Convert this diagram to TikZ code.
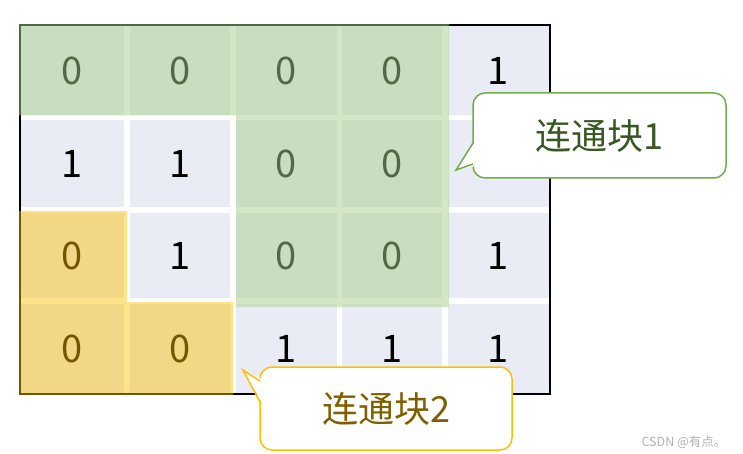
\documentclass[tikz,border=0pt]{standalone}
\usepackage{fontspec}
\setmainfont{Noto Sans CJK SC}
\definecolor{cellblue}{RGB}{233,236,245}
\definecolor{ovgreen}{RGB}{169,209,142}
\definecolor{ovyellow}{RGB}{255,192,0}
\definecolor{cgreen}{RGB}{112,173,71}
\definecolor{tgreen}{RGB}{56,87,35}
\definecolor{cyellow}{RGB}{255,192,0}
\definecolor{tyellow}{RGB}{127,96,0}
\begin{document}
\begin{tikzpicture}[x=1pt,y=-1pt,
  cellfill/.style={fill=cellblue},
  num/.style={inner sep=0pt,font=\fontsize{38}{38}\selectfont,text=black},
  callbox/.style={rectangle,rounded corners=12pt,line width=1.5pt,fill=white,
    inner sep=0pt,font=\fontsize{36}{36}\selectfont},
  gcall/.style={callbox,draw=cgreen,text=tgreen},
  ycall/.style={callbox,draw=cyellow,text=tyellow},
  tailg/.style={draw=cgreen,line width=1.5pt,line join=miter},
  taily/.style={draw=cyellow,line width=1.5pt,line join=miter}]
\useasboundingbox (0,0) rectangle (743,454);
\fill[white] (0,0) rectangle (743,454);
% cells
\foreach \xa/\xb in {21/124,130/230,236/337,342/442,448/549}{
  \foreach \ya/\yb in {26/115,120/207,213/298,304/393.5}{
    \fill[cellfill] (\xa,\ya) rectangle (\xb,\yb);
  }
}
% frame
\draw[line width=1.4pt] (20,25) rectangle (550,394);
% numbers
\node[num] (n00) at (72.5,70.5) {0};
\node[num] (n01) at (180,70.5) {0};
\node[num] (n02) at (286.5,70.5) {0};
\node[num] (n03) at (392,70.5) {0};
\node[num] (n04) at (498.5,70.5) {1};
\node[num] (n10) at (72.5,163.5) {1};
\node[num] (n11) at (180,163.5) {1};
\node[num] (n12) at (286.5,163.5) {0};
\node[num] (n13) at (392,163.5) {0};
\node[num] (n20) at (72.5,255.5) {0};
\node[num] (n21) at (180,255.5) {1};
\node[num] (n22) at (286.5,255.5) {0};
\node[num] (n23) at (392,255.5) {0};
\node[num] (n24) at (498.5,255.5) {1};
\node[num] (n30) at (72.5,349) {0};
\node[num] (n31) at (180,349) {0};
\node[num] (n32) at (286.5,349) {1};
\node[num] (n33) at (392,349) {1};
\node[num] (n34) at (498.5,349) {1};
% overlays
\fill[ovgreen,fill opacity=0.5] (19.2,24.2) -- (449,24.2) -- (449,307) -- (236,307) -- (236,115.5) -- (19.2,115.5) -- cycle;
\fill[ovyellow,fill opacity=0.45] (19.2,211) -- (127,211) -- (127,302) -- (233,302) -- (233,394.8) -- (19.2,394.8) -- cycle;
% callout 1
\node[gcall,minimum width=253pt,minimum height=85pt] (cb1) at (599.5,135.5) {连通块1};
\coordinate (t1a) at (473,143);
\coordinate (t1b) at (473,164);
\coordinate (t1) at (456,170);
\fill[white] (475.5,141) -- (t1) -- (475.5,166) -- cycle;
\draw[tailg] (t1a) -- (t1) -- (t1b);
% callout 2
\node[ycall,minimum width=252pt,minimum height=83pt] (cb2) at (386,408.5) {连通块2};
\coordinate (t2a) at (260,381);
\coordinate (t2b) at (260,402);
\coordinate (t2) at (243,370);
\fill[white] (262.5,379) -- (t2) -- (262.5,404) -- cycle;
\draw[taily] (t2a) -- (t2) -- (t2b);
% watermark
\node[inner sep=0pt,font=\fontsize{12.5}{12.5}\selectfont,text=black!30] (wm) at (684,442) {CSDN @有点。};
\end{tikzpicture}
\end{document}
